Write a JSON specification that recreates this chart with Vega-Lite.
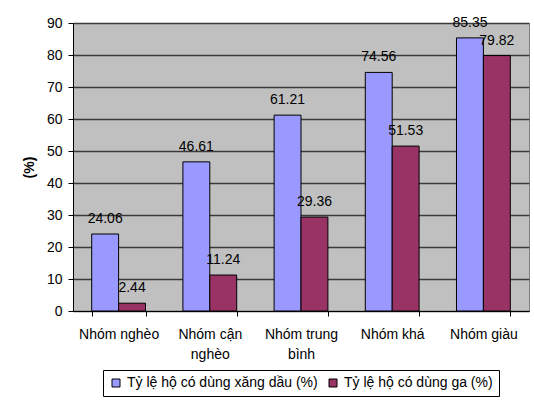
{
  "$schema": "https://vega.github.io/schema/vega-lite/v6.json",
  "width": 456,
  "height": 288,
  "autosize": "none",
  "padding": {"left": 73, "top": 23, "right": 5, "bottom": 92},
  "background": "white",
  "config": {
    "font": "Liberation Sans",
    "view": {"fill": "#C0C0C0", "stroke": "#808080", "strokeWidth": 1}
  },
  "data": {
    "values": [
      {"group": "Nhóm nghèo", "series": "Tỷ lệ hộ có dùng xăng dầu (%)", "value": 24.06},
      {"group": "Nhóm nghèo", "series": "Tỷ lệ hộ có dùng ga (%)", "value": 2.44},
      {"group": "Nhóm cận nghèo", "series": "Tỷ lệ hộ có dùng xăng dầu (%)", "value": 46.61},
      {"group": "Nhóm cận nghèo", "series": "Tỷ lệ hộ có dùng ga (%)", "value": 11.24},
      {"group": "Nhóm trung bình", "series": "Tỷ lệ hộ có dùng xăng dầu (%)", "value": 61.21},
      {"group": "Nhóm trung bình", "series": "Tỷ lệ hộ có dùng ga (%)", "value": 29.36},
      {"group": "Nhóm khá", "series": "Tỷ lệ hộ có dùng xăng dầu (%)", "value": 74.56},
      {"group": "Nhóm khá", "series": "Tỷ lệ hộ có dùng ga (%)", "value": 51.53},
      {"group": "Nhóm giàu", "series": "Tỷ lệ hộ có dùng xăng dầu (%)", "value": 85.35},
      {"group": "Nhóm giàu", "series": "Tỷ lệ hộ có dùng ga (%)", "value": 79.82}
    ]
  },
  "encoding": {
    "x": {
      "field": "group", "type": "nominal",
      "sort": ["Nhóm nghèo", "Nhóm cận nghèo", "Nhóm trung bình", "Nhóm khá", "Nhóm giàu"],
      "scale": {"paddingInner": 0.41, "paddingOuter": 0.205},
      "axis": {
        "title": null, "labelAngle": 0, "tickBand": "extent", "grid": false,
        "domainColor": "black", "tickColor": "black", "tickSize": 5,
        "labelColor": "black", "labelFontSize": 14, "labelPadding": 11, "labelLineHeight": 20,
        "labelExpr": "datum.value == 'Nhóm cận nghèo' ? ['Nhóm cận', 'nghèo'] : datum.value == 'Nhóm trung bình' ? ['Nhóm trung', 'bình'] : datum.value"
      }
    },
    "xOffset": {
      "field": "series", "type": "nominal",
      "sort": ["Tỷ lệ hộ có dùng xăng dầu (%)", "Tỷ lệ hộ có dùng ga (%)"]
    },
    "y": {
      "field": "value", "type": "quantitative",
      "scale": {"domain": [0, 90], "nice": false},
      "axis": {
        "title": "(%)", "titleFontSize": 14, "titleFontWeight": "bold", "titleColor": "black", "titlePadding": 10,
        "values": [0, 10, 20, 30, 40, 50, 60, 70, 80, 90],
        "gridColor": "#3a3a3a", "gridWidth": 1.5,
        "domainColor": "black", "tickColor": "black", "tickSize": 5,
        "labelColor": "black", "labelFontSize": 14, "labelPadding": 6
      }
    }
  },
  "layer": [
    {
      "mark": {"type": "bar", "stroke": "black", "strokeWidth": 1},
      "encoding": {
        "color": {
          "field": "series", "type": "nominal",
          "sort": ["Tỷ lệ hộ có dùng xăng dầu (%)", "Tỷ lệ hộ có dùng ga (%)"],
          "scale": {"range": ["#9999FF", "#993366"]},
          "legend": {
            "title": null, "orient": "none", "legendX": 30, "legendY": 347,
            "direction": "horizontal", "columns": 2,
            "strokeColor": "black", "padding": 6,
            "symbolType": "square", "symbolSize": 64, "symbolStrokeColor": "black", "symbolStrokeWidth": 1,
            "labelFontSize": 14, "labelColor": "black", "labelLimit": 300, "columnPadding": 8
          }
        }
      }
    },
    {
      "mark": {"type": "text", "fontSize": 14, "color": "black", "baseline": "alphabetic", "dy": -11},
      "encoding": {
        "text": {"field": "value", "type": "quantitative", "format": ".2f"}
      }
    }
  ]
}
